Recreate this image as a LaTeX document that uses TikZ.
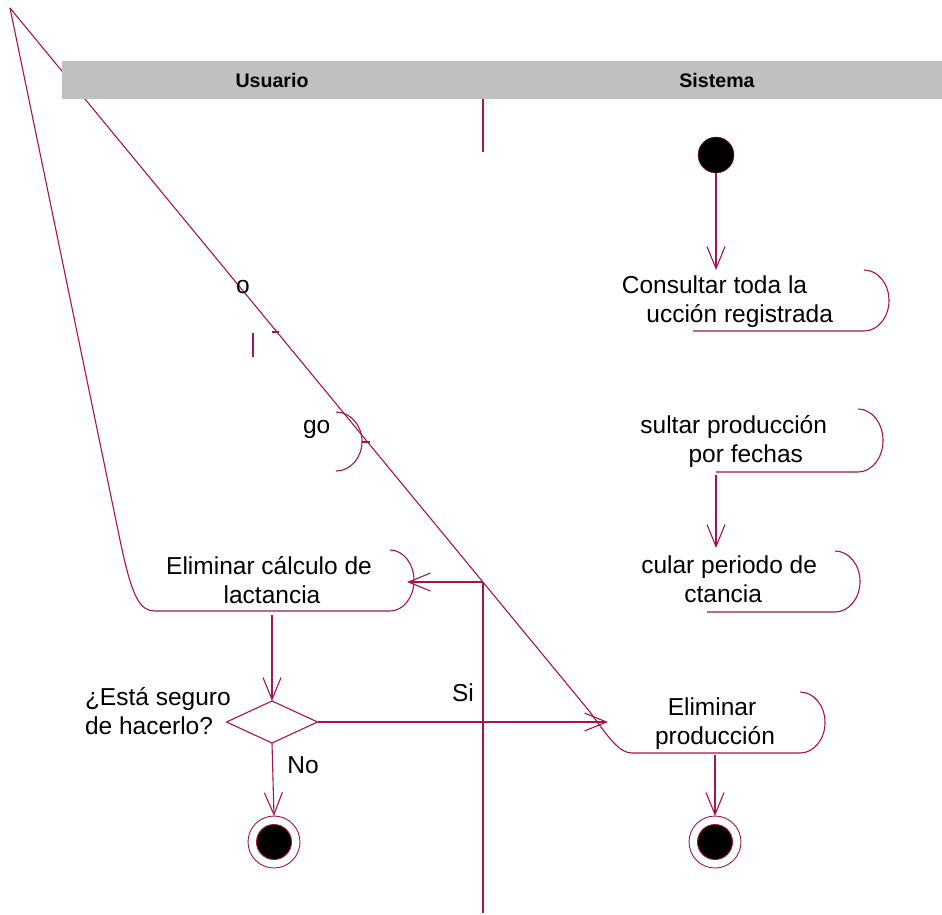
\documentclass[tikz,border=0pt]{standalone}
\usepackage{fontspec}
\setmainfont{Liberation Sans}
\usetikzlibrary{arrows.meta,shapes.geometric}
\definecolor{umlred}{RGB}{165,20,75}
\definecolor{lanegray}{RGB}{192,192,192}
\begin{document}
\begin{tikzpicture}[x=1pt, y=-1pt, >={Straight Barb[length=22pt,width=18pt]},
          font=\fontsize{24.5}{29}\selectfont,
          every node/.style={inner sep=0pt, outer sep=0pt},
          flow/.style={draw=umlred, line width=1.1pt},
          conn/.style={->, draw=umlred, line width=1.1pt},
          lanehead/.style={font=\fontsize{19.6}{22}\selectfont\bfseries},
          startnode/.style={circle, draw=umlred, fill=black, minimum size=36pt},
          endnode/.style={circle, draw=umlred, fill=white, line width=0.9pt, minimum size=52pt,
            path picture={\filldraw[fill=black, draw=umlred] (path picture bounding box.center) circle (17.5pt);}},
          decision/.style={diamond, draw=umlred, line width=1.1pt, aspect=2.17, minimum width=91pt, minimum height=42pt}]
        \useasboundingbox (0,0) rectangle (942,915);
        % activity outlines, only bottom edge and right arc are left
        \foreach \xl/\xr/\yt/\yb in {693/864/270/331, 716/858/409/472, 707/835/551/612}
          \draw[flow] (\xl,\yb) -- (\xr,\yb) arc[start angle=90, end angle=-90, x radius=25, y radius={(\yb-\yt)/2}];
        \draw[flow] (10,8) -- (120,540) .. controls (132,598) and (140,611) .. (155,611) -- (390,611)
          arc[start angle=90, end angle=-90, x radius=24, y radius=30.5];
        \draw[flow] (10,8) -- (590,712) .. controls (610,740) and (620,753) .. (632,753) -- (800,753)
          arc[start angle=90, end angle=-90, x radius=25, y radius=30.5];
        \draw[flow] (336,412) arc[start angle=-90, end angle=90, x radius=26, y radius=29.5];
        \draw[flow] (362,442) -- (370,442);
        \draw[flow] (272,332) -- (279,332);
        \draw[flow] (253,333) -- (253,357);
        % swimlane header
        \fill[lanegray] (62,61) rectangle (942,99);
        \node[lanehead] (usr) at (272,80) {Usuario};
        \node[lanehead] (sys) at (717,80) {Sistema};
        \draw[flow] (483,99) -- (483,152);
        % texts
        \node[anchor=base] (cona) at (714.5,293) {Consultar toda la};
        \node[anchor=base east] (conb) at (833,322) {ucción registrada};
        \node[anchor=base east] (fecha) at (827,433) {sultar producción};
        \node[anchor=base east] (fechb) at (803,462) {por fechas};
        \node[anchor=base east] (lacta) at (817,573) {cular periodo de};
        \node[anchor=base east] (lactb) at (762,602) {ctancia};
        \node[anchor=base] (elpa) at (712,715) {Eliminar};
        \node[anchor=base] (elpb) at (715,744) {producción};
        \node[anchor=base] (elca) at (269,574) {Eliminar cálculo de};
        \node[anchor=base] (elcb) at (272,603) {lactancia};
        \node[anchor=base west] (quesa) at (85,705) {¿Está seguro};
        \node[anchor=base west] (quesb) at (85,734) {de hacerlo?};
        \node[anchor=base] (si) at (463,701) {Si};
        \node[anchor=base] (no) at (303,773) {No};
        \node[anchor=base west] (go) at (303,433) {go};
        \node[anchor=base west] (frag) at (236,293) {o};
        % states
        \node[startnode] (ini) at (716,155) {};
        \node[decision] (dec) at (272,722) {};
        \node[endnode] (fin1) at (274,842) {};
        \node[endnode] (fin2) at (715,842) {};
        \coordinate (c1top) at (716,270);
        \coordinate (c2bot) at (716,475);
        \coordinate (c3top) at (716,548);
        \coordinate (junct) at (483,582);
        \coordinate (elcright) at (407,582);
        \coordinate (elcbot) at (272,615);
        \coordinate (elpleft) at (608,722);
        \coordinate (elpbot) at (715,755);
        \coordinate (laneend) at (483,913);
        % flows
        \draw[conn] (ini) -- (c1top);
        \draw[conn] (c2bot) -- (c3top);
        \draw[flow] (junct) -- (laneend);
        \draw[conn] (junct) -- (elcright);
        \draw[conn] (elcbot) -- (dec.north);
        \draw[conn] (dec.south) -- (fin1.north);
        \draw[conn] (dec.east) -- (elpleft);
        \draw[conn] (elpbot) -- (fin2.north);
      \end{tikzpicture}
\end{document}
